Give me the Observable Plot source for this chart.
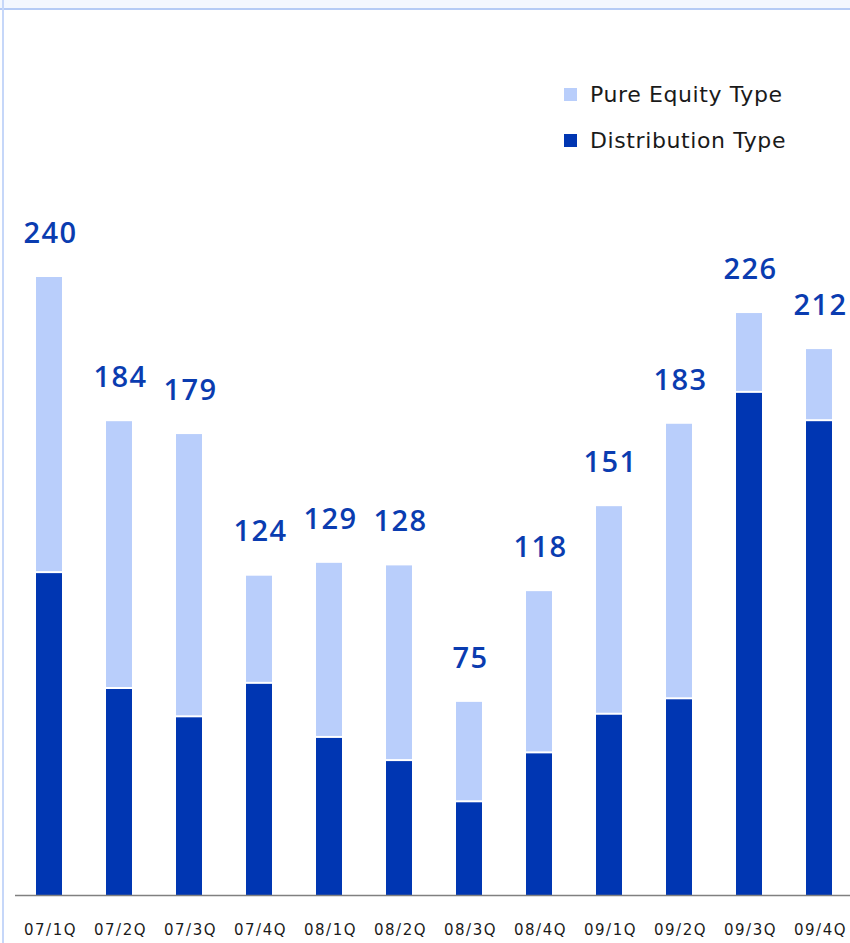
<!DOCTYPE html>
<html>
<head>
<meta charset="utf-8">
<script src="https://cdn.jsdelivr.net/npm/d3@7"></script>
<script src="https://cdn.jsdelivr.net/npm/@observablehq/plot@0.6"></script>
<style>
  html, body { margin: 0; padding: 0; background: #fff; }
  #wrap { position: relative; width: 850px; height: 943px; overflow: hidden; }
  #wrap svg { position: absolute; left: 0; top: 0; }
  #strip { position: absolute; left: 0; top: 0; width: 850px; height: 8px; background: #f3f7fe; }
  #topline { position: absolute; left: 0; top: 8px; width: 850px; height: 2px; background: #b5cbf5; }
  #leftline { position: absolute; left: 2px; top: 0; width: 2px; height: 943px; background: #c6d7f9; }
  #legend { position: absolute; left: 564px; top: 71px; font-family: "DejaVu Sans", sans-serif; font-size: 22px; letter-spacing: 0.6px; color: #1a1a1a; }
  .item { display: flex; align-items: center; height: 46px; }
  .sw { width: 13px; height: 13px; margin-right: 13px; }
  .xl { letter-spacing: 1.5px; }
  .vl { letter-spacing: 1.5px; }
</style>
</head>
<body>
<div id="wrap">
  <div id="strip"></div>
  <div id="topline"></div>
  <div id="leftline"></div>
  <div id="legend"></div>
</div>
<script>
const quarters = ["07/1Q","07/2Q","07/3Q","07/4Q","08/1Q","08/2Q","08/3Q","08/4Q","09/1Q","09/2Q","09/3Q","09/4Q"];
const totals = [240,184,179,124,129,128,75,118,151,183,226,212];
const distribution = [125,80,69,82,61,52,36,55,70,76,195,184];
const seriesNames = ["Pure Equity Type","Distribution Type"];
const seriesColors = ["#b9cefb","#0036b2"];

const rows = quarters.map((q, i) => ({q, total: totals[i], dist: distribution[i]}));

const chart = Plot.plot({
  width: 850,
  height: 943,
  marginLeft: 15,
  marginRight: 0,
  marginTop: 10,
  marginBottom: 48,
  style: {fontFamily: "'Open Sans', sans-serif", background: "transparent"},
  x: {type: "band", domain: quarters, range: [-8, 876], paddingInner: 44/70, paddingOuter: 44/70, round: false, axis: null},
  y: {domain: [0, 240], range: [895, 277], axis: null},
  marks: [
    Plot.barY(rows, {x: "q", y1: 0, y2: "dist", fill: seriesColors[1]}),
    Plot.barY(rows, {x: "q", y1: "dist", y2: "total", fill: seriesColors[0], insetBottom: 2}),
    Plot.ruleY([0], {stroke: "#808080", strokeWidth: 1.5}),
    Plot.text(rows, {x: "q", y: "total", text: d => String(d.total), dx: 1, dy: -44, fontSize: 29, fontWeight: 600, fill: "#0a3cb0", lineAnchor: "middle", className: "vl"}),
    Plot.text(quarters, {x: d => d, frameAnchor: "bottom", dx: 1, dy: 35, text: d => d, fontSize: 15, fill: "#1a1a1a", lineAnchor: "middle", fontFamily: "'DejaVu Sans', sans-serif", className: "xl"})
  ]
});
document.getElementById("wrap").appendChild(chart);

const legend = document.getElementById("legend");
seriesNames.forEach((name, i) => {
  const item = document.createElement("div");
  item.className = "item";
  const sw = document.createElement("div");
  sw.className = "sw";
  sw.style.background = seriesColors[i];
  const t = document.createElement("span");
  t.textContent = name;
  item.appendChild(sw);
  item.appendChild(t);
  legend.appendChild(item);
});
</script>
</body>
</html>
